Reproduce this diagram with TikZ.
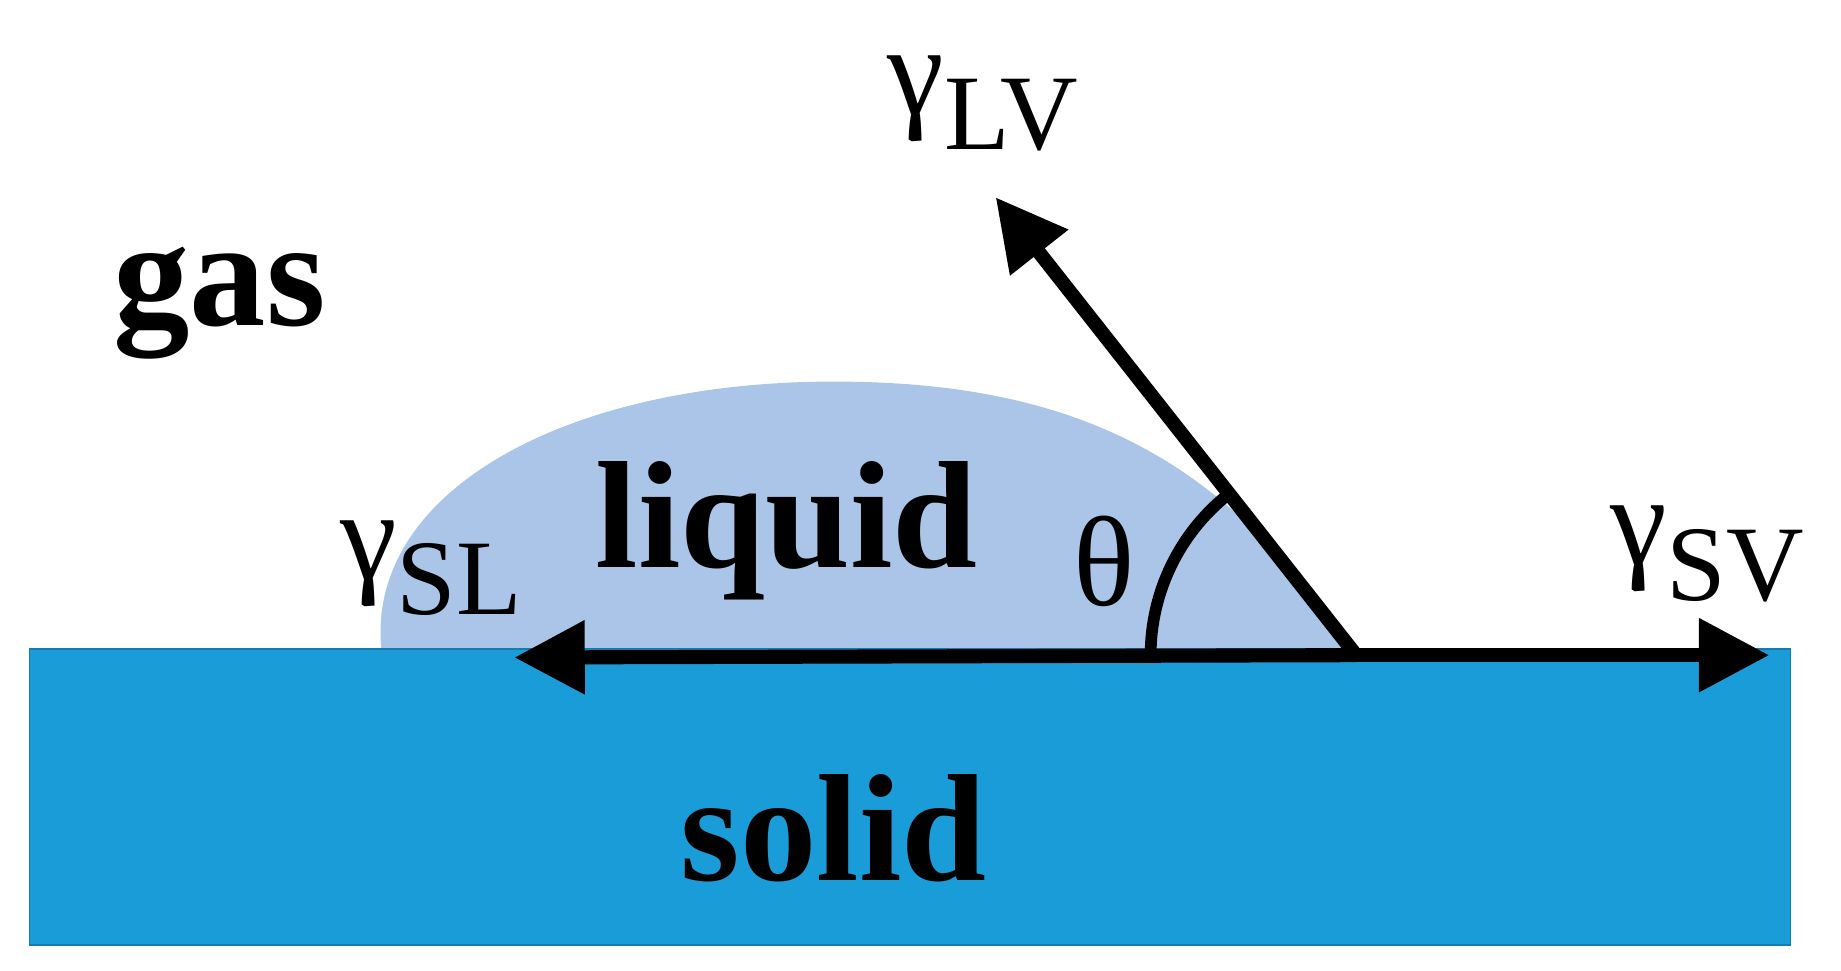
\documentclass[tikz,border=0pt]{standalone}
\usepackage{fontspec}
\setmainfont{Liberation Serif}
\usetikzlibrary{arrows.meta}
\definecolor{solidc}{HTML}{1A9CD8}
\definecolor{liqc}{HTML}{AAC5E8}
\tikzset{force/.style={line width=0.12cm,-{Triangle[length=0.6cm,width=0.6cm]}},
 lbl/.style={font=\fontsize{37}{40}\selectfont\bfseries},
 gam/.style={font=\fontsize{31}{34}\selectfont}}
\begin{document}
\begin{tikzpicture}[x=0.01cm,y=-0.01cm]
\useasboundingbox (0,0) rectangle (1568,827);
\fill[liqc] (325,555) .. controls (310,420) and (480,325) .. (710,325) .. controls (900,325) and (1040,380) .. (1150,555) -- cycle;
\draw[solidc!80!black,fill=solidc,line width=0.4pt] (25,553) rectangle (1525,805);
\coordinate (c) at (1155,558);
\coordinate (sl) at (438,560);
\coordinate (sv) at (1507,558);
\coordinate (lv) at (848,168);
\draw[force] (c) -- (sl);
\draw[force] (c) -- (sv);
\draw[force] (c) -- (lv);
\draw[line width=0.1cm] (980,558) arc[start angle=180,end angle=231.6,radius=175];
\node[lbl] (gas) at (187,258) {gas};
\node[lbl] (liq) at (670,452) {liquid};
\node[lbl] (sol) at (710,705) {solid};
\node[gam] (th) at (940,478) {θ};
\node[gam] (tlv) at (838,88) {γ\textsubscript{\fontsize{26}{26}\selectfont LV}};
\node[gam] (tsl) at (368,484) {γ\textsubscript{\fontsize{26}{26}\selectfont SL}};
\node[gam] (tsv) at (1455,472) {γ\textsubscript{\fontsize{26}{26}\selectfont SV}};
\end{tikzpicture}
\end{document}
